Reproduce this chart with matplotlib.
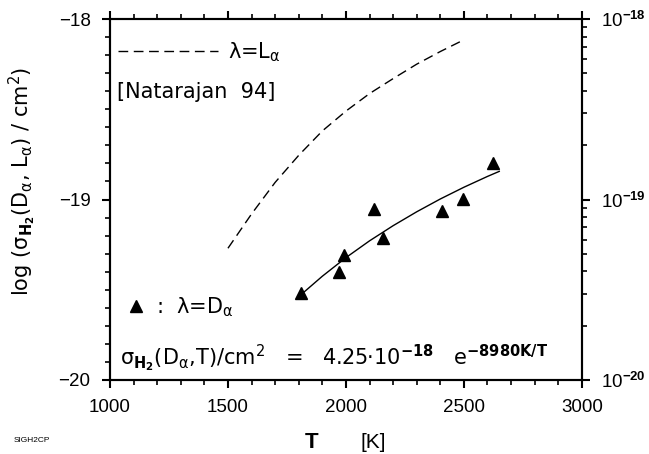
import matplotlib
matplotlib.use("Agg")
import matplotlib.pyplot as plt
from matplotlib.lines import Line2D
from matplotlib.ticker import MultipleLocator, LogLocator, NullFormatter

plt.rcParams['font.family'] = ['Liberation Sans', 'DejaVu Sans']
plt.rcParams['mathtext.fontset'] = 'custom'
plt.rcParams['mathtext.rm'] = 'DejaVu Sans'
plt.rcParams['mathtext.it'] = 'DejaVu Sans'
plt.rcParams['mathtext.bf'] = 'DejaVu Sans:bold'
plt.rcParams['mathtext.sf'] = 'Liberation Sans:bold'
plt.rcParams['mathtext.default'] = 'regular'

# measured cross sections (triangles, lambda = D_alpha)
T_meas = [1809, 1970, 1993, 2120, 2157, 2408, 2496, 2622]
logsig_meas = [-19.52, -19.40, -19.31, -19.05, -19.215, -19.065, -18.995, -18.80]

# Arrhenius fit 4.25e-18 exp(-8980K/T)
T_fit = [1800, 1900, 2000, 2100, 2200, 2300, 2400, 2500, 2600, 2650]
logsig_fit = [-19.538, -19.425, -19.322, -19.229, -19.145, -19.068, -18.997, -18.932, -18.872, -18.844]

# Natarajan 94, lambda = L_alpha (dashed)
T_nat = [1500, 1600, 1700, 1800, 1900, 2000, 2100, 2200, 2300, 2400, 2500]
logsig_nat = [-19.27, -19.08, -18.905, -18.755, -18.62, -18.51, -18.413, -18.33, -18.25, -18.18, -18.115]

fig = plt.figure(figsize=(6.49, 4.54), dpi=100)
ax = fig.add_axes([0.1695, 0.163, 0.727, 0.795])

ax.plot(T_nat, logsig_nat, color='black', lw=1, dashes=(7, 4))
ax.plot(T_fit, logsig_fit, color='black', lw=1)
ax.plot(T_meas, logsig_meas, ls='none', marker='^', ms=8, color='black')

ax.set_xlim(1000, 3000)
ax.set_ylim(-20, -18)
ax.xaxis.set_major_locator(MultipleLocator(500))
ax.xaxis.set_minor_locator(MultipleLocator(100))
ax.yaxis.set_major_locator(MultipleLocator(1))
ax.yaxis.set_minor_locator(MultipleLocator(0.1))
ax.tick_params(which='both', direction='out', top=True, right=False, labelsize=13.5)
ax.tick_params(which='major', length=6, width=1.5, pad=8)
ax.tick_params(which='minor', length=3.5, width=1.2)
for s in ax.spines.values():
    s.set_linewidth(1.5)

ax2 = ax.twinx()
ax2.set_yscale('log')
ax2.set_ylim(1e-20, 1e-18)
ax2.yaxis.set_minor_locator(LogLocator(base=10, subs=range(2, 10), numticks=10))
ax2.yaxis.set_minor_formatter(NullFormatter())
ax2.set_yticks([1e-20, 1e-19, 1e-18])
ax2.set_yticklabels([r'10$^{\mathsf{-20}}$', r'10$^{\mathsf{-19}}$', r'10$^{\mathsf{-18}}$'])
ax2.tick_params(which='both', direction='out', labelsize=13.5)
ax2.tick_params(which='major', length=6, width=1.5, pad=8)
ax2.tick_params(which='minor', length=3.5, width=1.2)
for s in ax2.spines.values():
    s.set_linewidth(1.5)

# keys
note = {'size': 15, 'family': 'DejaVu Sans'}
leg1 = ax.legend([Line2D([], [], color='black', lw=1, dashes=(7, 4))], [r'λ=L$_α$'],
                 loc='center left', bbox_to_anchor=(0.017, 0.909), frameon=False,
                 borderpad=0, borderaxespad=0, handlelength=4.8, handletextpad=0.5,
                 prop=note)
ax.add_artist(leg1)
ax.legend([Line2D([], [], ls='none', marker='^', ms=9, color='black')], [r':  λ=D$_α$'],
          loc='center left', bbox_to_anchor=(0.032, 0.202), frameon=False,
          borderpad=0, borderaxespad=0, handlelength=1, handletextpad=0.5,
          prop=note)

ax.text(0.015, 0.798, '[Natarajan  94]', transform=ax.transAxes, fontsize=15,
        family='DejaVu Sans', ha='left', va='center')
ax.text(0.021, 0.061,
        r'σ$_{\mathbf{H_2}}$(D$_α$,T)/cm$^2$   =   4.25·10$^{\mathbf{-18}}$   e$^{\mathbf{-8980K/T}}$',
        transform=ax.transAxes, fontsize=15, family='DejaVu Sans', ha='left', va='center')

fig.text(0.034, 0.60, r'log (σ$_{\mathbf{H_2}}$(D$_α$, L$_α$) / cm$^2$)', rotation=90,
         fontsize=15, family='DejaVu Sans', ha='center', va='center')
fig.text(312 / 649, 1 - 443 / 454, 'T', fontsize=16, fontweight='bold', ha='center', va='center')
fig.text(373 / 649, 1 - 443 / 454, '[K]', fontsize=15, ha='center', va='center')
fig.text(14 / 649, 1 - 441 / 454, 'SIGH2CP', fontsize=6, ha='left', va='center')

fig.savefig('out.png', dpi=100)
